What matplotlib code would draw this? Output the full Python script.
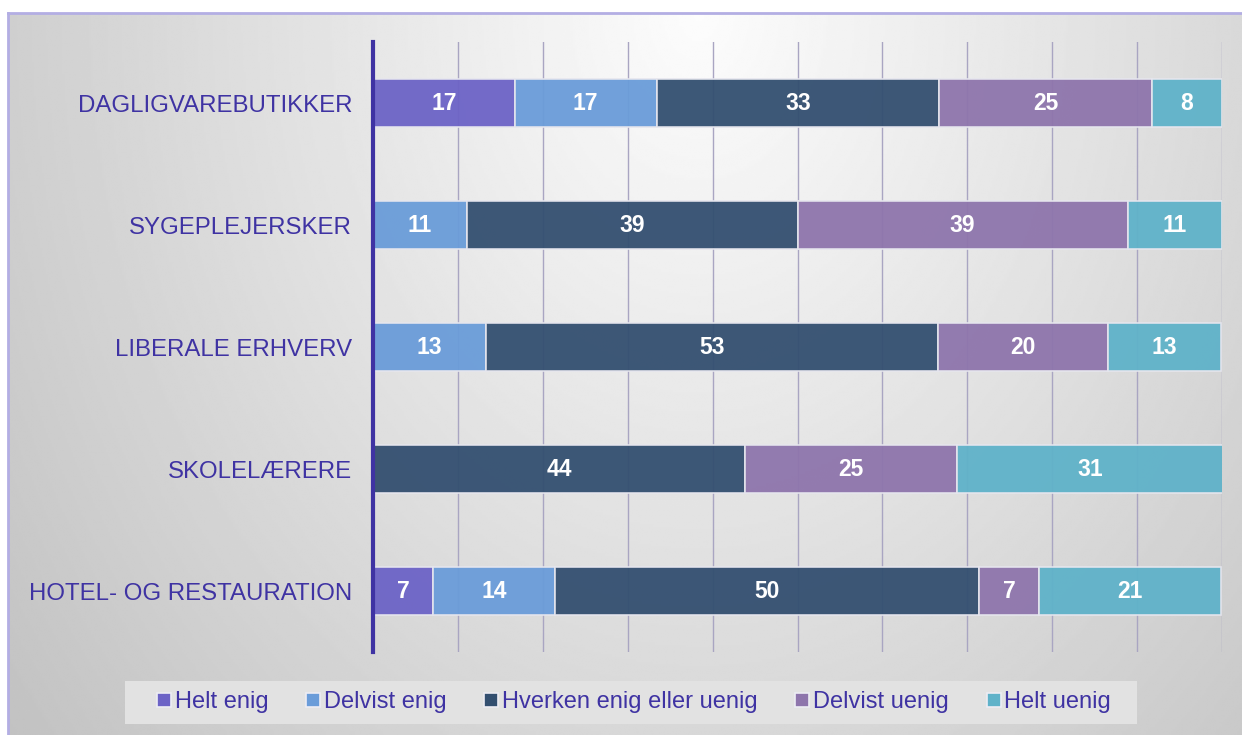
import numpy as np
import matplotlib
matplotlib.use("Agg")
from matplotlib import pyplot as plt
from matplotlib.lines import Line2D
from matplotlib.patches import Rectangle

plt.rcParams['font.family'] = ['Liberation Sans', 'DejaVu Sans']

#------------------------------------------------
categories = ['DAGLIGVAREBUTIKKER', 'SYGEPLEJERSKER', 'LIBERALE ERHVERV',
              'SKOLELÆRERE', 'HOTEL- OG RESTAURATION']
series = ['Helt enig', 'Delvist enig', 'Hverken enig eller uenig',
          'Delvist uenig', 'Helt uenig']
helt_enig     = [16.7, 0.0, 0.0, 0.0, 7.1]
delvist_enig  = [16.7, 11.1, 13.3, 0.0, 14.3]
hverken       = [33.3, 38.9, 53.3, 43.8, 50.0]
delvist_uenig = [25.0, 38.9, 20.0, 25.0, 7.1]
helt_uenig    = [8.3, 11.1, 13.3, 31.3, 21.4]
colors = ['#6c63c6', '#6a9cd9', '#334f70', '#8e75ac', '#5fb2c9']
label_col = '#3f33a3'

#------------------------------------------------
W, H = 1242, 735
fig = plt.figure(figsize=(W/100, H/100), dpi=100)

# background panel with soft radial gradient
bg = fig.add_axes([8/W, 0, 1 - 8/W, 1 - 13/H], zorder=-10)
yy, xx = np.mgrid[0:1:300j, 0:1:600j]
d = np.sqrt((xx - 0.56) ** 2 + (0.45 * yy) ** 2)
grad = 0.99 - 0.32 * d
bg.imshow(grad, cmap='gray', vmin=0, vmax=1, aspect='auto',
          extent=[0, 1, 1, 0], interpolation='bilinear')
bg.set_xticks([]); bg.set_yticks([])
for s in bg.spines.values():
    s.set_visible(False)
for s in ['left', 'top']:
    bg.spines[s].set_visible(True)
    bg.spines[s].set_color('#b3aee3')
    bg.spines[s].set_linewidth(2)

ax = fig.add_axes([373/W, 1 - 652/H, (1222 - 373)/W, (652 - 42)/H])
ax.patch.set_alpha(0)

data = [helt_enig, delvist_enig, hverken, delvist_uenig, helt_uenig]
y = np.arange(len(categories))
left = np.zeros(len(categories))
for vals, col, name in zip(data, colors, series):
    vals = np.array(vals)
    ax.barh(y, vals, left=left, height=0.4, color=col, alpha=0.95,
            edgecolor='#e6e6ee', linewidth=1.2, label=name, zorder=3)
    for yi, v, l in zip(y, vals, left):
        if v > 0:
            ax.text(l + v / 2, yi, f'{v:.0f}', ha='center', va='center',
                    color='white', fontsize=16.5, fontweight='bold', zorder=4)
    left += vals

ax.set_xlim(0, 100)
ax.set_ylim(len(categories) - 0.5, -0.5)
ax.set_xticks(np.arange(0, 101, 10))
ax.set_xticklabels([])
ax.tick_params(axis='x', length=0)
ax.tick_params(axis='y', length=0, pad=15)
ax.grid(axis='x', color='#a9a5c2', linewidth=1, zorder=0)
ax.set_axisbelow(True)
ax.set_yticks(y)
ax.set_yticklabels(categories, fontsize=17.3, color=label_col)
for s in ['top', 'right', 'bottom']:
    ax.spines[s].set_visible(False)
ax.spines['left'].set_color(label_col)
ax.spines['left'].set_linewidth(3)
ax.spines['left'].set_zorder(5)

# legend box
fig.patches.append(Rectangle((125/W, 1 - 724/H), (1137 - 125)/W, 43/H,
                             transform=fig.transFigure, facecolor='#e2e2e2',
                             edgecolor='none', zorder=-5))
handles = [Line2D([], [], marker='s', linestyle='', markersize=10,
                  markerfacecolor=c, markeredgecolor='#ececf4',
                  markeredgewidth=1.2) for c in colors]
leg = fig.legend(handles, series, loc='center', ncol=5,
                 bbox_to_anchor=(634/W, 1 - 702/H),
                 fontsize=17, frameon=False,
                 handlelength=0.6, handletextpad=0.15, columnspacing=1.6)
for t in leg.get_texts():
    t.set_color(label_col)

fig.savefig('out.png', dpi=100)
